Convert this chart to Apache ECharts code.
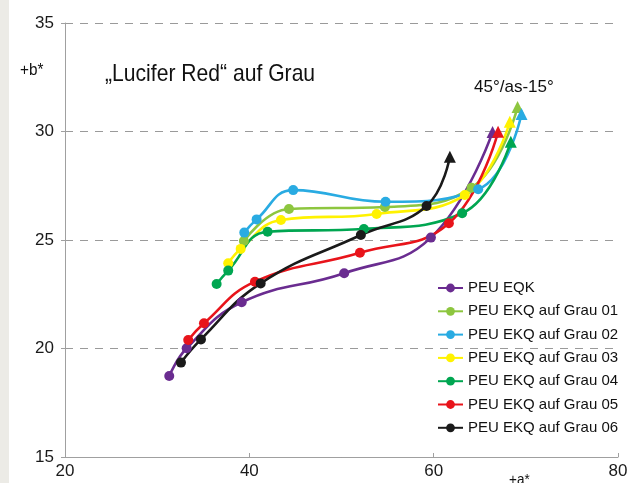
<!DOCTYPE html>
<html>
<head>
<meta charset="utf-8">
<script src="https://cdn.jsdelivr.net/npm/echarts@6/dist/echarts.min.js"></script>
<style>
html,body{margin:0;padding:0;background:#ffffff;}
#c{width:641px;height:483px;}
</style>
</head>
<body>
<div id="c"></div>
<script>
// Series names (legend)
const seriesNames = ['PEU EQK','PEU EKQ auf Grau 01','PEU EKQ auf Grau 02','PEU EKQ auf Grau 03','PEU EKQ auf Grau 04','PEU EKQ auf Grau 05','PEU EKQ auf Grau 06'];
const seriesColors = ['#6a2c90','#8dc63f','#29abe2','#fff200','#00a651','#e8141b','#1a1a1a'];

// +a* values per series
const eqkA   = [31.31, 33.20, 39.17, 50.29, 59.70, 66.39];
const grau01A = [39.41, 44.30, 54.71, 64.11, 69.10];
const grau02A = [39.45, 40.79, 44.76, 54.78, 64.83, 69.53];
const grau03A = [37.71, 39.06, 43.43, 53.81, 63.38, 68.26];
const grau04A = [36.45, 37.71, 41.98, 52.43, 63.09, 68.37];
const grau05A = [33.37, 35.08, 40.61, 52.00, 61.65, 66.99];
const grau06A = [32.58, 34.75, 41.23, 52.10, 59.23, 61.76];

// +b* values per series
const eqkB   = [18.73, 20.01, 22.13, 23.47, 25.11, 29.98];
const grau01B = [24.95, 26.43, 26.52, 27.41, 31.13];
const grau02B = [25.34, 25.95, 27.30, 26.76, 27.34, 30.81];
const grau03B = [23.93, 24.59, 25.92, 26.20, 27.07, 30.45];
const grau04B = [22.97, 23.59, 25.38, 25.51, 26.23, 29.53];
const grau05B = [20.39, 21.16, 23.08, 24.41, 25.77, 29.99];
const grau06B = [19.35, 20.42, 23.00, 25.23, 26.57, 28.84];

const allA = [eqkA, grau01A, grau02A, grau03A, grau04A, grau05A, grau06A];
const allB = [eqkB, grau01B, grau02B, grau03B, grau04B, grau05B, grau06B];

// Axis ticks
const xTicks = [20, 40, 60, 80];
const yTicks = [15, 20, 25, 30, 35];

const FONT = "'Liberation Sans', Arial, sans-serif";

const chart = echarts.init(document.getElementById('c'), null, {renderer: 'canvas'});

const series = seriesNames.map((name, i) => {
  const a = allA[i], b = allB[i];
  const data = a.map((v, k) => {
    const item = {value: [v, b[k]]};
    if (k === a.length - 1) { item.symbol = 'triangle'; item.symbolSize = 12; }
    return item;
  });
  return {
    name: name,
    type: 'line',
    smooth: 0.45,
    data: data,
    symbol: 'circle',
    symbolSize: 10,
    showSymbol: true,
    lineStyle: {width: 2.6, color: seriesColors[i]},
    itemStyle: {color: seriesColors[i]},
    animation: false
  };
});

chart.setOption({
  animation: false,
  backgroundColor: '#ffffff',
  textStyle: {fontFamily: FONT},
  grid: {left: 65, top: 23, width: 553, height: 434, containLabel: false},
  xAxis: {
    type: 'value', min: xTicks[0], max: xTicks[xTicks.length - 1], interval: 20,
    axisLine: {show: true, lineStyle: {color: '#a0a0a0', width: 1}},
    axisTick: {show: true, inside: true, length: 4, lineStyle: {color: '#a0a0a0'}},
    axisLabel: {color: '#1a1a1a', fontSize: 17, margin: 6, fontFamily: FONT},
    splitLine: {show: false}
  },
  yAxis: {
    type: 'value', min: yTicks[0], max: yTicks[yTicks.length - 1], interval: 5,
    axisLine: {show: true, lineStyle: {color: '#a0a0a0', width: 1}},
    axisTick: {show: true, inside: false, length: 4, lineStyle: {color: '#a0a0a0'}},
    axisLabel: {color: '#1a1a1a', fontSize: 17, margin: 11, fontFamily: FONT},
    splitLine: {show: true, lineStyle: {color: '#9a9a9a', width: 1.2, type: [8, 7]}}
  },
  legend: {
    orient: 'vertical', left: 437, top: 280, padding: 0,
    itemWidth: 25, itemHeight: 11, itemGap: 7.3,
    textStyle: {fontSize: 15, color: '#111111', fontFamily: FONT, lineHeight: 16},
    data: seriesNames
  },
  graphic: [
    {type: 'rect', shape: {x: 0, y: 0, width: 9, height: 483}, style: {fill: '#ecebe6'}, silent: true, z: -10},
    {type: 'text', x: 105, y: 62, scaleX: 0.88, style: {text: '\u201eLucifer Red\u201c auf Grau', font: "24px " + FONT, fill: '#111111'}},
    {type: 'text', x: 20, y: 62, scaleX: 0.9, style: {text: '+b*', font: "17px " + FONT, fill: '#111111'}},
    {type: 'text', x: 474, y: 79, scaleX: 1.0, style: {text: '45\u00b0/as-15\u00b0', font: "17px " + FONT, fill: '#111111'}},
    {type: 'text', x: 509, y: 472, scaleX: 0.9, style: {text: '+a*', font: "15px " + FONT, fill: '#111111'}}
  ],
  series: series
});
</script>
</body>
</html>
